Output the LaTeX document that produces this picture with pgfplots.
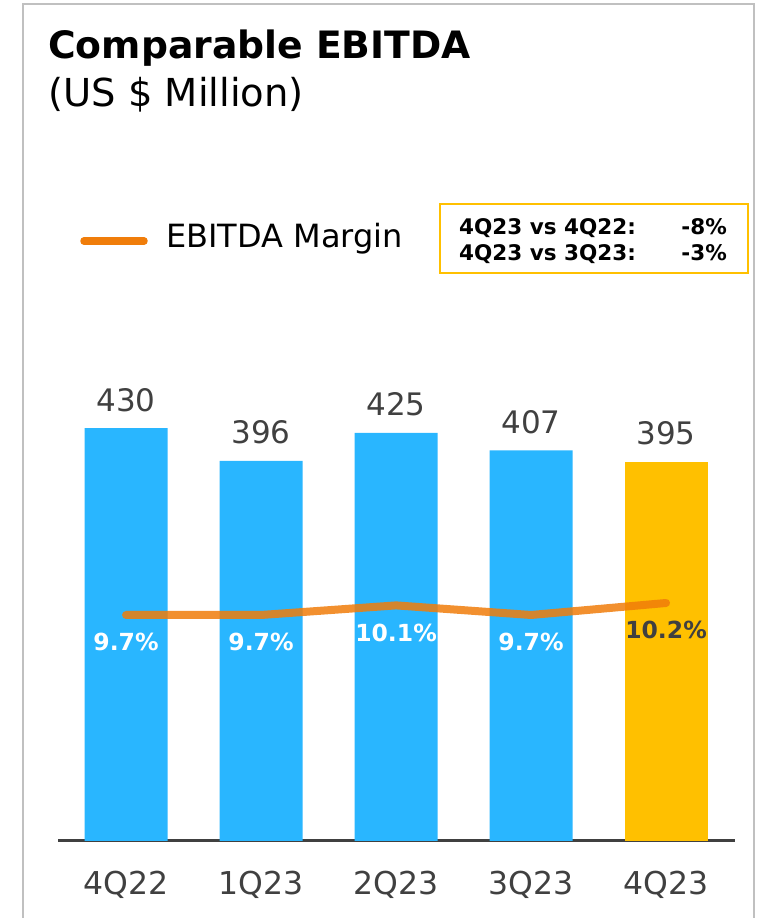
\documentclass[border=0pt]{standalone}
\usepackage{fontspec}
\setmainfont{DejaVu Sans}
\usepackage{pgfplots}
\pgfplotsset{compat=1.18}
\definecolor{barblue}{RGB}{41,182,255}
\definecolor{baryellow}{RGB}{255,192,0}
\definecolor{lineorange}{RGB}{240,125,10}
\definecolor{textgray}{RGB}{64,64,64}
\definecolor{axisgray}{RGB}{64,64,64}
\definecolor{framegray}{RGB}{192,192,192}
\pgfplotsset{commonaxis/.style={
  at={(58pt,77pt)}, anchor=south west,
  scale only axis, width=677pt, height=460.8pt,
  xmin=-0.504, xmax=4.511,
  clip=false,
  /pgf/number format/assume math mode=true,
}}
\begin{document}
\begin{tikzpicture}
\useasboundingbox (0pt,0pt) rectangle (756pt,918pt);
% frame
\draw[framegray, line width=2pt] (23pt,0pt) -- (23pt,914pt) -- (754pt,914pt) -- (754pt,0pt);
% title
\node[anchor=base west, inner sep=0] at (48pt,859pt) {\fontsize{37.7}{44}\selectfont\bfseries Comparable EBITDA};
\node[anchor=base west, inner sep=0] at (48pt,811pt) {\fontsize{38.5}{44}\selectfont (US \$ Million)};
% legend
\draw[lineorange, line width=7.5pt, line cap=round] (84pt,677pt) -- (144pt,677pt);
\node[anchor=base west, inner sep=0] at (166pt,670pt) {\fontsize{32}{38}\selectfont EBITDA Margin};
% box
\draw[baryellow, line width=2pt] (440pt,645pt) rectangle (748pt,714pt);
\node[anchor=base west, inner sep=0] at (459pt,683pt) {\fontsize{21.5}{25}\selectfont\bfseries 4Q23 vs 4Q22:};
\node[anchor=base east, inner sep=0] at (727pt,683pt) {\fontsize{21.5}{25}\selectfont\bfseries -8\%};
\node[anchor=base west, inner sep=0] at (459pt,657pt) {\fontsize{21.5}{25}\selectfont\bfseries 4Q23 vs 3Q23:};
\node[anchor=base east, inner sep=0] at (727pt,657pt) {\fontsize{21.5}{25}\selectfont\bfseries -3\%};
% bars
\begin{axis}[commonaxis,
  ymin=0, ymax=480,
  axis y line=none, axis x line=bottom,
  x axis line style={-, line width=3pt, draw=axisgray},
  xtick={0,1,2,3,4}, xticklabels={4Q22,1Q23,2Q23,3Q23,4Q23},
  major tick length=0pt,
  xticklabel style={anchor=base, yshift=-53pt, font=\fontsize{31.5}{37}\selectfont, text=textgray},
  ybar, bar width=83pt, bar shift=0pt,
  nodes near coords,
  every node near coord/.append style={anchor=base, yshift=17pt, font=\fontsize{31}{37}\selectfont, text=textgray},
]
\addplot[fill=barblue, draw=none] coordinates {(0,430) (1,396) (2,425) (3,407)};
\addplot[fill=baryellow, draw=none] coordinates {(4,395)};
\end{axis}
% margin line
\begin{axis}[commonaxis,
  ymin=0.283, ymax=19.483,
  axis lines=none, ticks=none,
]
\addplot[lineorange, line width=8pt, line cap=round, line join=round, opacity=0.85, mark=none] coordinates {(0,9.7) (1,9.7) (2,10.1) (3,9.7) (4,10.2)};
\addplot[draw=none, mark=none,
  nodes near coords={\pgfmathprintnumber[fixed,precision=1]{\pgfplotspointmeta}\%},
  every node near coord/.append style={anchor=base, yshift=-36pt, text=white, font=\fontsize{23.5}{27}\selectfont\bfseries}]
  coordinates {(0,9.7) (1,9.7) (2,10.1) (3,9.7)};
\addplot[draw=none, mark=none,
  nodes near coords={\pgfmathprintnumber[fixed,precision=1]{\pgfplotspointmeta}\%},
  every node near coord/.append style={anchor=base, yshift=-36pt, text=textgray, font=\fontsize{23.5}{27}\selectfont\bfseries}]
  coordinates {(4,10.2)};
\end{axis}
\end{tikzpicture}
\end{document}
